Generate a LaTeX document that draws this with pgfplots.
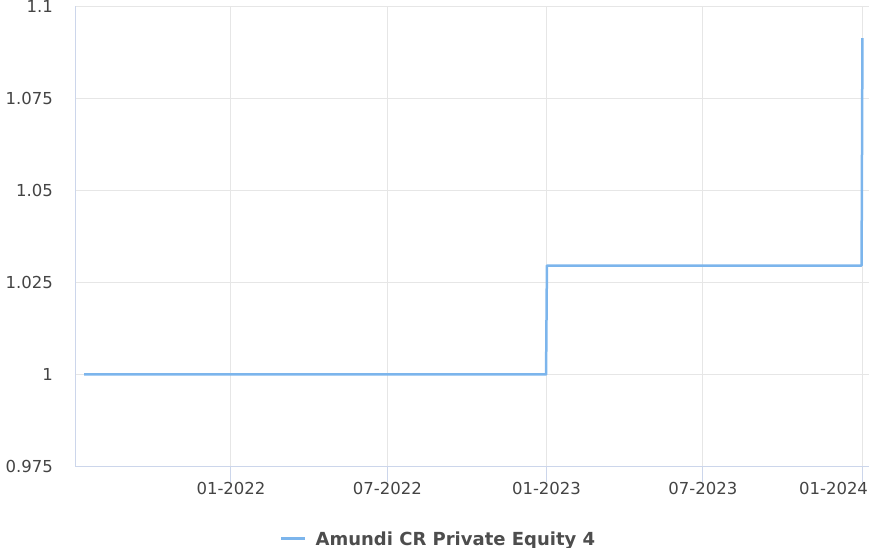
\documentclass[border=0pt]{standalone}
\usepackage{fontspec}
\setmainfont{DejaVu Sans}
\usepackage{pgfplots}
\pgfplotsset{compat=1.18}
\definecolor{serie}{HTML}{7CB5EC}
\definecolor{gridc}{HTML}{E6E6E6}
\definecolor{axisc}{HTML}{CCD6EB}
\definecolor{labc}{HTML}{444444}
\definecolor{legc}{HTML}{4D4D4D}
\begin{document}
\begin{tikzpicture}
\useasboundingbox (-76bp,-81.5bp) rectangle (793bp,466.5bp);
\begin{axis}[
  scale only axis,
  width=793bp, height=460bp,
  xmin=-179.3, xmax=738.1,
  ymin=0.975, ymax=1.1,
  axis lines*=left,
  axis line style={axisc, line width=1bp},
  xtick={0,181,365,546,730},
  xticklabels={01-2022,07-2022,01-2023,07-2023,{\makebox[0pt][r]{01-2024\hspace*{-6bp}}}},
  ytick={0.975,1,1.025,1.05,1.075,1.1},
  yticklabels={0.975,1,1.025,1.05,1.075,1.1},
  xmajorgrids, ymajorgrids,
  grid style={gridc, line width=1bp},
  tick align=outside,
  major tick length=15bp,
  xtick style={axisc, line width=1bp},
  ytick style={draw=none},
  /pgf/number format/assume math mode=true,
  xticklabel style={font=\fontsize{16.5bp}{19bp}\selectfont, text=labc, inner sep=0pt, anchor=north, yshift=-1bp},
  yticklabel style={font=\fontsize{16.5bp}{19bp}\selectfont, text=labc, inner sep=0pt, anchor=east, xshift=-8bp},
  legend style={at={(axis description cs:0.457,-0.1576)}, anchor=center, draw=none, fill=none,
    font=\fontsize{18bp}{21bp}\selectfont\bfseries, text=legc, inner sep=0pt},
  legend image code/.code={\draw[#1, line width=3bp] (0bp,0bp) -- (24bp,0bp);},
  legend cell align=left,
]
\addplot[serie, line width=2.5bp, line join=round] coordinates {
  (-170,1.0000) (364.5,1.0000) (365.5,1.0296) (729.5,1.0296) (730.5,1.0914)
};
\addlegendentry{\hspace*{7bp}Amundi CR Private Equity 4}
\end{axis}
\end{tikzpicture}
\end{document}
